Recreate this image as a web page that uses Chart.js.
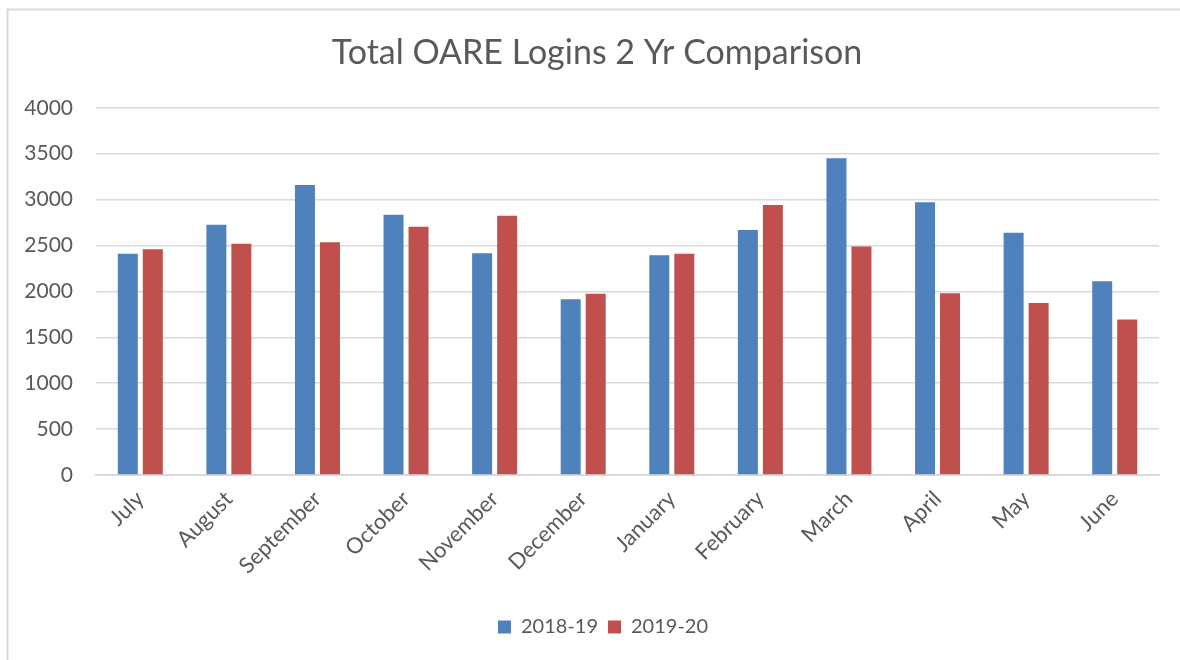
<!DOCTYPE html>
<html>
<head>
<meta charset="utf-8">
<script src="https://cdn.jsdelivr.net/npm/chart.js@4.4.1/dist/chart.umd.min.js"></script>
<style>
  html, body { margin: 0; padding: 0; background: #ffffff; }
  #wrap { width: 1180px; height: 660px; position: relative; }
</style>
</head>
<body>
<div id="wrap"><canvas id="c" width="1180" height="660"></canvas></div>
<script>
const titleText = 'Total OARE Logins 2 Yr Comparison';
const months = ['July', 'August', 'September', 'October', 'November', 'December', 'January', 'February', 'March', 'April', 'May', 'June'];
const seriesNames = ['2018-19', '2019-20'];
const logins2018 = [2410, 2725, 3160, 2835, 2415, 1915, 2395, 2670, 3450, 2970, 2640, 2110];
const logins2019 = [2460, 2520, 2535, 2705, 2825, 1975, 2410, 2940, 2490, 1980, 1875, 1695];
const yMin = 0, yMax = 4000, yStep = 500;

const FONT = 'Lato, "Open Sans", "Liberation Sans", sans-serif';
const TXT = '#595959';
const GRID = '#d9d9d9';

const frame = {
  id: 'frame',
  beforeDraw(chart) {
    const ctx = chart.ctx;
    ctx.save();
    ctx.fillStyle = '#ffffff';
    ctx.fillRect(0, 0, chart.width, chart.height);
    ctx.strokeStyle = GRID;
    ctx.lineWidth = 2;
    ctx.beginPath();
    ctx.moveTo(7.5, chart.height);
    ctx.lineTo(7.5, 9.5);
    ctx.lineTo(chart.width, 9.5);
    ctx.stroke();
    ctx.restore();
  }
};

const boxShift = {
  id: 'boxShift',
  afterLayout(chart) {
    const lg = chart.legend;
    if (lg) {
      const dx = 603 - (lg.left + lg.right) / 2;
      lg.left += dx;
      lg.right += dx;
    }
    const tb = chart.titleBlock;
    if (tb) {
      const dx = 597 - (tb.left + tb.right) / 2;
      tb.left += dx;
      tb.right += dx;
    }
  }
};

new Chart(document.getElementById('c'), {
  type: 'bar',
  data: {
    labels: months,
    datasets: [
      { label: seriesNames[0], data: logins2018, backgroundColor: '#4F81BD', borderWidth: 0 },
      { label: seriesNames[1], data: logins2019, backgroundColor: '#C0504D', borderWidth: 0 }
    ]
  },
  options: {
    responsive: false,
    animation: false,
    devicePixelRatio: 1,
    categoryPercentage: 0.5645,
    barPercentage: 0.8,
    layout: { padding: { left: 0, right: 21, top: 0, bottom: 13 } },
    plugins: {
      title: {
        display: true,
        text: titleText,
        color: TXT,
        font: { family: FONT, size: 34, weight: 'normal' },
        padding: { top: 33, bottom: 34 }
      },
      legend: {
        position: 'bottom',
        labels: {
          color: TXT,
          font: { family: FONT, size: 20 },
          boxWidth: 13,
          boxHeight: 13,
          padding: 10
        }
      },
      tooltip: { enabled: false }
    },
    scales: {
      x: {
        grid: { display: false, drawTicks: false },
        border: { display: true, color: GRID, width: 2 },
        ticks: {
          color: TXT,
          font: { family: FONT, size: 22 },
          minRotation: 45,
          maxRotation: 45,
          padding: 11
        },
        afterFit(axis) { axis.height = 132; }
      },
      y: {
        min: yMin,
        max: yMax,
        grid: { color: GRID, lineWidth: 1.5, drawTicks: false },
        border: { display: false },
        ticks: {
          stepSize: yStep,
          color: TXT,
          font: { family: FONT, size: 21 },
          padding: 23,
          callback: (v) => String(v)
        },
        afterFit(axis) { axis.width = 96; }
      }
    }
  },
  plugins: [frame, boxShift]
});
</script>
</body>
</html>
